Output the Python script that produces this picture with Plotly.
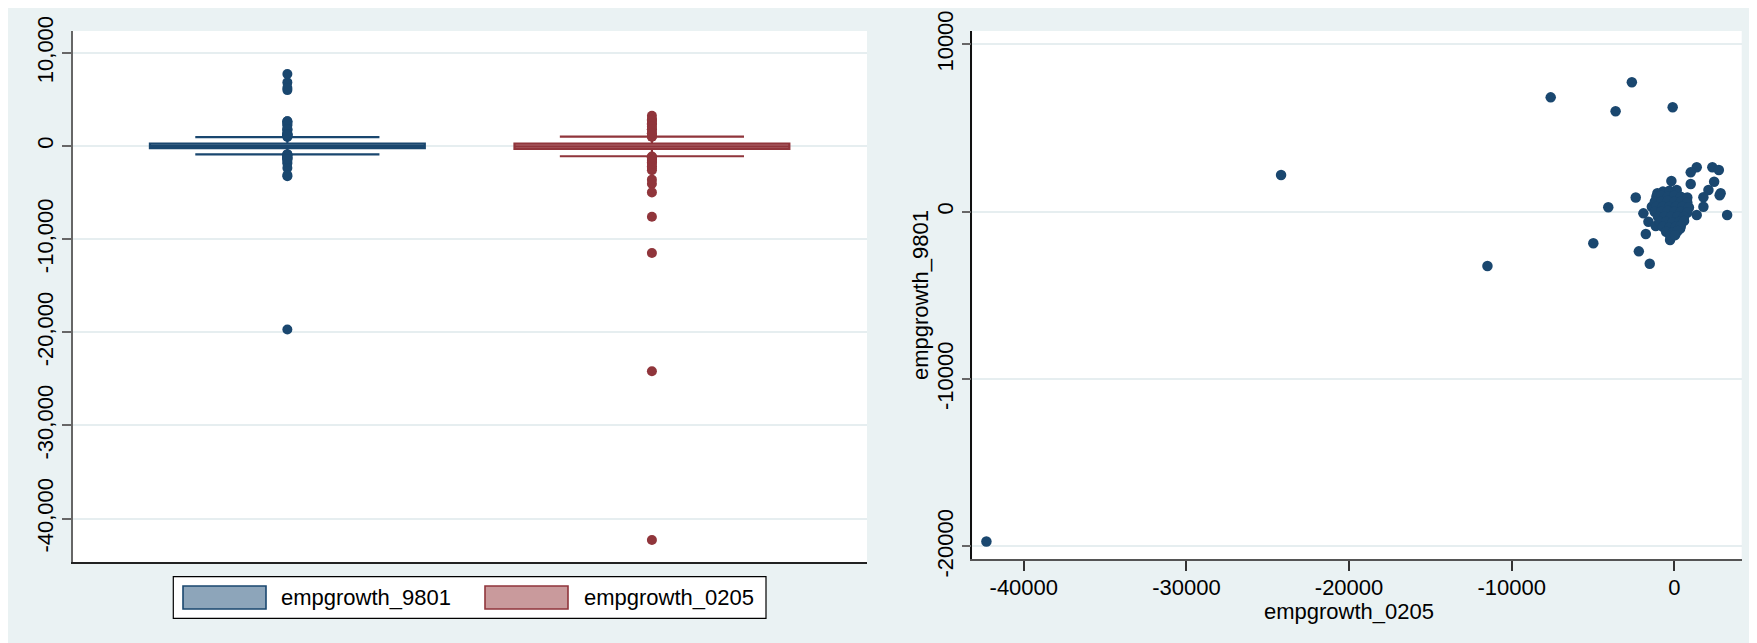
import plotly.graph_objects as go

# ---------------- data ----------------
# scatter pairs: x = empgrowth_0205, y = empgrowth_9801
emp0205 = [-42300, -24180, -11490, -7600, -2610, -3610, -100, -4060, -4980, -2370,
           -2180, -1510, -1750, -1900, -1590, 3250, 2790, 2850, 2340, 2740,
           1380, 1010, 1010, -180, 2450, 2100, 1790, 1790, 1380, -1040,
           -260, 360, -1140, -1380, 660, 770, 150,
           -700, -300, 100,
           -1100, -800, -400, 0, 400, 800,
           -1200, -800, -400, 0, 400, 800,
           -1100, -700, -300, 100, 500, 900,
           -1200, -800, -400, 0, 400, 800,
           -1000, -600, -200, 200, 600,
           -900, -500, -100, 300, 600,
           -700, -300, 100, 400,
           -500, -100, 200,
           -250, 50]
emp9801 = [-19700, 2190, -3240, 6830, 7730, 6000, 6240, 270, -1890, 850,
           -2370, -3110, -1330, -100, -600, -200, 980, 1100, 2650, 2490,
           2650, 2350, 1650, 1830, 1790, 1300, 860, 300, -200, 1100,
           -1690, -1000, -850, 300, 800, 300, 1300,
           1200, 1250, 1200,
           900, 950, 900, 950, 900, 850,
           600, 600, 650, 600, 600, 550,
           300, 300, 300, 300, 300, 250,
           0, 0, 50, 0, 0, -50,
           -300, -300, -300, -300, -300,
           -600, -600, -650, -600, -550,
           -900, -950, -900, -850,
           -1200, -1250, -1150,
           -1450, -1400]

series_names = ["empgrowth_9801", "empgrowth_0205"]
box_q1 = [-230, -300]
box_median = [20, -30]
box_q3 = [270, 250]
box_lower_adj = [-890, -1100]
box_upper_adj = [960, 1000]

box_ticks = [10000, 0, -10000, -20000, -30000, -40000]
box_ticktext = ["10,000", "0", "-10,000", "-20,000", "-30,000", "-40,000"]
sc_xticks = [-40000, -30000, -20000, -10000, 0]
sc_yticks = [10000, 0, -10000, -20000]

# ---------------- style ----------------
OFF = 8  # page body margin offset
W, H = 1757 - OFF, 643 - OFF
NAVY = "#1A476F"
MAROON = "#90353B"
NAVY_FILL = "#8DA5BA"
MAROON_FILL = "#C99A9C"
BG = "#EAF2F3"
GRID = "#E6EEF0"
FONT = "Liberation Sans, Arial, sans-serif"
FS = 22

def px(x):
    return (x - OFF) / W

def py(y):
    return 1 - (y - OFF) / H

fig = go.Figure()

colors = [NAVY, MAROON]
fills = [NAVY_FILL, MAROON_FILL]
series_vals = [emp9801, emp0205]
for i in range(2):
    fig.add_trace(go.Box(
        x=[i], q1=[box_q1[i]], median=[box_median[i]], q3=[box_q3[i]],
        lowerfence=[box_lower_adj[i]], upperfence=[box_upper_adj[i]],
        width=0.754, whiskerwidth=0.67, fillcolor=fills[i],
        line=dict(color=colors[i], width=2.2), boxpoints=False,
        name=series_names[i], showlegend=False, xaxis="x", yaxis="y",
        hoverinfo="skip"))
    outs = [v for v in series_vals[i] if v > box_upper_adj[i] or v < box_lower_adj[i]]
    fig.add_trace(go.Scatter(
        x=[i] * len(outs), y=outs, mode="markers",
        marker=dict(size=10, color=colors[i], line=dict(width=0)),
        showlegend=False, xaxis="x", yaxis="y", hoverinfo="skip"))

fig.add_trace(go.Scatter(
    x=emp0205, y=emp9801, mode="markers",
    marker=dict(size=10.5, color=NAVY, line=dict(width=0)),
    showlegend=False, xaxis="x2", yaxis="y2"))

tickfont = dict(family=FONT, size=FS, color="black")

fig.update_layout(
    width=W, height=H, autosize=False,
    margin=dict(l=0, r=0, t=0, b=0, pad=0, autoexpand=False),
    paper_bgcolor=BG, plot_bgcolor="white",
    showlegend=False, boxmode="overlay",
    font=dict(family=FONT, size=FS, color="black"),
    xaxis=dict(domain=[px(73), px(867)], range=[-0.588, 1.590], automargin=False,
               showticklabels=False, ticks="", showgrid=False, zeroline=False,
               showline=True, linecolor="#222222", linewidth=1.5, anchor="y"),
    yaxis=dict(domain=[py(562.3), py(31)], range=[-44690, 12346], automargin=False,
               tickvals=box_ticks, ticktext=box_ticktext, tickangle=-90,
               ticks="outside", ticklen=9, tickcolor="#666666", tickwidth=1.5,
               showgrid=True, gridcolor=GRID, gridwidth=2, zeroline=False,
               showline=True, linecolor="#666666", linewidth=1.5,
               tickfont=tickfont, anchor="x"),
    xaxis2=dict(domain=[px(972.3), px(1741.7)], range=[-43167, 4145], automargin=False,
                tickvals=sc_xticks, ticktext=[str(v) for v in sc_xticks],
                ticks="outside", ticklen=10, tickcolor="#333333", tickwidth=1.5,
                ticklabelstandoff=-2,
                showgrid=False, zeroline=False,
                showline=True, linecolor="#555555", linewidth=1.5,
                tickfont=tickfont, anchor="y2"),
    yaxis2=dict(domain=[py(559.3), py(31)], range=[-20765, 10794], automargin=False,
                tickvals=sc_yticks, ticktext=[str(v) for v in sc_yticks], tickangle=-90,
                ticks="outside", ticklen=9, tickcolor="#666666", tickwidth=1.5,
                showgrid=True, gridcolor=GRID, gridwidth=2, zeroline=False,
                showline=True, linecolor="#111111", linewidth=1.5,
                tickfont=tickfont, anchor="x2"),
)

shapes = [
    # legend frame
    dict(type="rect", xref="paper", yref="paper", x0=px(173.3), x1=px(766),
         y0=py(618.3), y1=py(576.7), fillcolor="white",
         line=dict(color="black", width=1.2), layer="above"),
    # legend keys
    dict(type="rect", xref="paper", yref="paper", x0=px(183), x1=px(266),
         y0=py(609), y1=py(586), fillcolor=NAVY_FILL,
         line=dict(color=NAVY, width=1.6), layer="above"),
    dict(type="rect", xref="paper", yref="paper", x0=px(485), x1=px(568),
         y0=py(609), y1=py(586), fillcolor=MAROON_FILL,
         line=dict(color=MAROON, width=1.6), layer="above"),
]
fig.update_layout(shapes=shapes)

annotations = [
    dict(text=series_names[0], xref="paper", yref="paper", x=px(279), y=py(597.5),
         xanchor="left", yanchor="middle", showarrow=False,
         font=dict(family=FONT, size=FS, color="black")),
    dict(text=series_names[1], xref="paper", yref="paper", x=px(582), y=py(597.5),
         xanchor="left", yanchor="middle", showarrow=False,
         font=dict(family=FONT, size=FS, color="black")),
    dict(text="empgrowth_0205", xref="paper", yref="paper", x=px(1348.7), y=py(611),
         xanchor="center", yanchor="middle", showarrow=False,
         font=dict(family=FONT, size=FS, color="black")),
    dict(text="empgrowth_9801", xref="paper", yref="paper", x=px(921), y=py(295),
         xanchor="center", yanchor="middle", showarrow=False, textangle=-90,
         font=dict(family=FONT, size=FS, color="black")),
]
fig.update_layout(annotations=annotations)

fig.write_html("out.html")
